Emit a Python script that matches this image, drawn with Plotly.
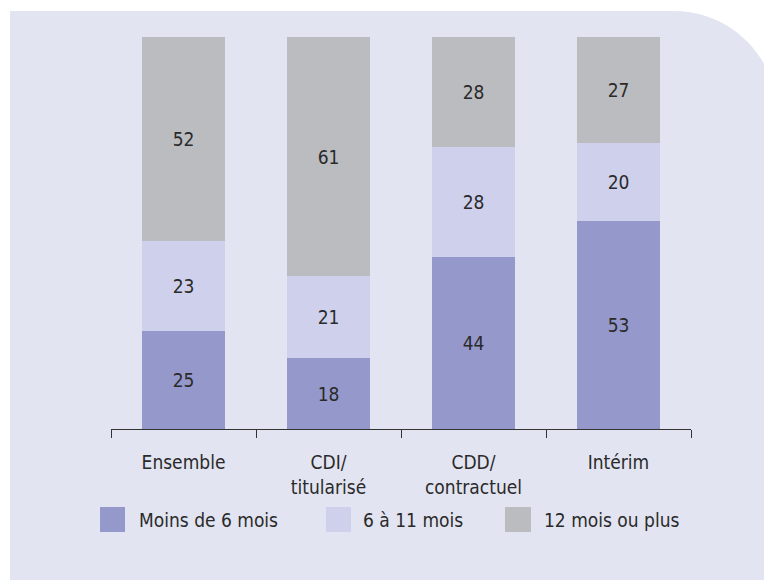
import plotly.graph_objects as go

categories = ["Ensemble", "CDI/<br>titularisé", "CDD/<br>contractuel", "Intérim"]
series_names = ["Moins de 6 mois", "6 à 11 mois", "12 mois ou plus"]
moins_6 = [25, 18, 44, 53]
de_6_11 = [23, 21, 28, 20]
plus_12 = [52, 61, 28, 27]

colors = ["#9598cb", "#cfd1ec", "#bbbcc0"]
panel = "#e2e4f1"
txt = "#2a2a2a"
FONT = "DejaVu Sans Condensed, Liberation Sans, Arial, sans-serif"
FS = 19

W, H = 764, 580
L, R, T, B = 111, 73, 37, 151
PW, PH = W - L - R, H - T - B


def px(x):
    return (x - L) / PW


def py(y):
    return (H - B - y) / PH


fig = go.Figure()
for name, vals, col in zip(series_names, [moins_6, de_6_11, plus_12], colors):
    fig.add_trace(go.Bar(
        x=categories, y=vals, name=name, marker=dict(color=col, line=dict(width=0)),
        text=vals, texttemplate="%{text}", textposition="inside", insidetextanchor="middle",
        textangle=0, textfont=dict(family=FONT, size=FS, color=txt),
        width=0.566, showlegend=False, hoverinfo="skip",
    ))

# white surround of the panel (paper itself is the panel colour), rounded top-right corner
r = 103
k = 0.5523 * r
x0, y0, xc = 10, 11, 674
corner = (f"M {px(xc)},{py(y0)} "
          f"C {px(xc + k)},{py(y0)} {px(xc + r)},{py(y0 + r - k)} {px(xc + r)},{py(y0 + r)} "
          f"L {px(xc + r + 20)},{py(y0 + r)} L {px(xc + r + 20)},{py(-2)} L {px(xc)},{py(-2)} Z")
shapes = [
    dict(type="rect", xref="paper", yref="paper", x0=px(-2), x1=px(W + 2), y0=py(y0), y1=py(-2),
         fillcolor="white", line=dict(width=0), layer="below"),
    dict(type="rect", xref="paper", yref="paper", x0=px(-2), x1=px(x0), y0=py(H + 2), y1=py(-2),
         fillcolor="white", line=dict(width=0), layer="below"),
    dict(type="path", xref="paper", yref="paper", path=corner,
         fillcolor="white", line=dict(width=0), layer="below"),
]

# legend drawn manually
leg_sq = [(100, 125), (326, 351), (505, 531)]
leg_tx = [137, 361, 542]
annotations = []
for (a, b), tx, name, col in zip(leg_sq, leg_tx, series_names, colors):
    shapes.append(dict(type="rect", xref="paper", yref="paper",
                       x0=px(a), x1=px(b), y0=py(532), y1=py(507),
                       fillcolor=col, line=dict(width=0)))
    annotations.append(dict(xref="paper", yref="paper", x=px(tx), y=py(519.5),
                            xanchor="left", yanchor="middle", text=name, showarrow=False,
                            font=dict(family=FONT, size=FS, color=txt)))

fig.update_layout(
    width=W, height=H, barmode="stack", bargap=0.434,
    margin=dict(l=L, r=R, t=T, b=B, pad=0),
    paper_bgcolor=panel, plot_bgcolor="rgba(0,0,0,0)",
    shapes=shapes, annotations=annotations,
    font=dict(family=FONT, size=FS, color=txt),
    xaxis=dict(type="category", range=[-0.5, 3.5], showline=True, linecolor="#333333",
               linewidth=1, ticks="outside", tickson="boundaries", ticklen=8,
               tickcolor="#333333", tickwidth=1, showgrid=False, zeroline=False,
               tickfont=dict(family=FONT, size=FS, color=txt), ticklabelstandoff=16),
    yaxis=dict(range=[0, 100], visible=False, showgrid=False, zeroline=False),
)

fig.write_html("out.html", config={"displayModeBar": False},
               post_script="document.body.style.margin='0';document.body.style.padding='0';document.body.style.overflow='hidden';")
